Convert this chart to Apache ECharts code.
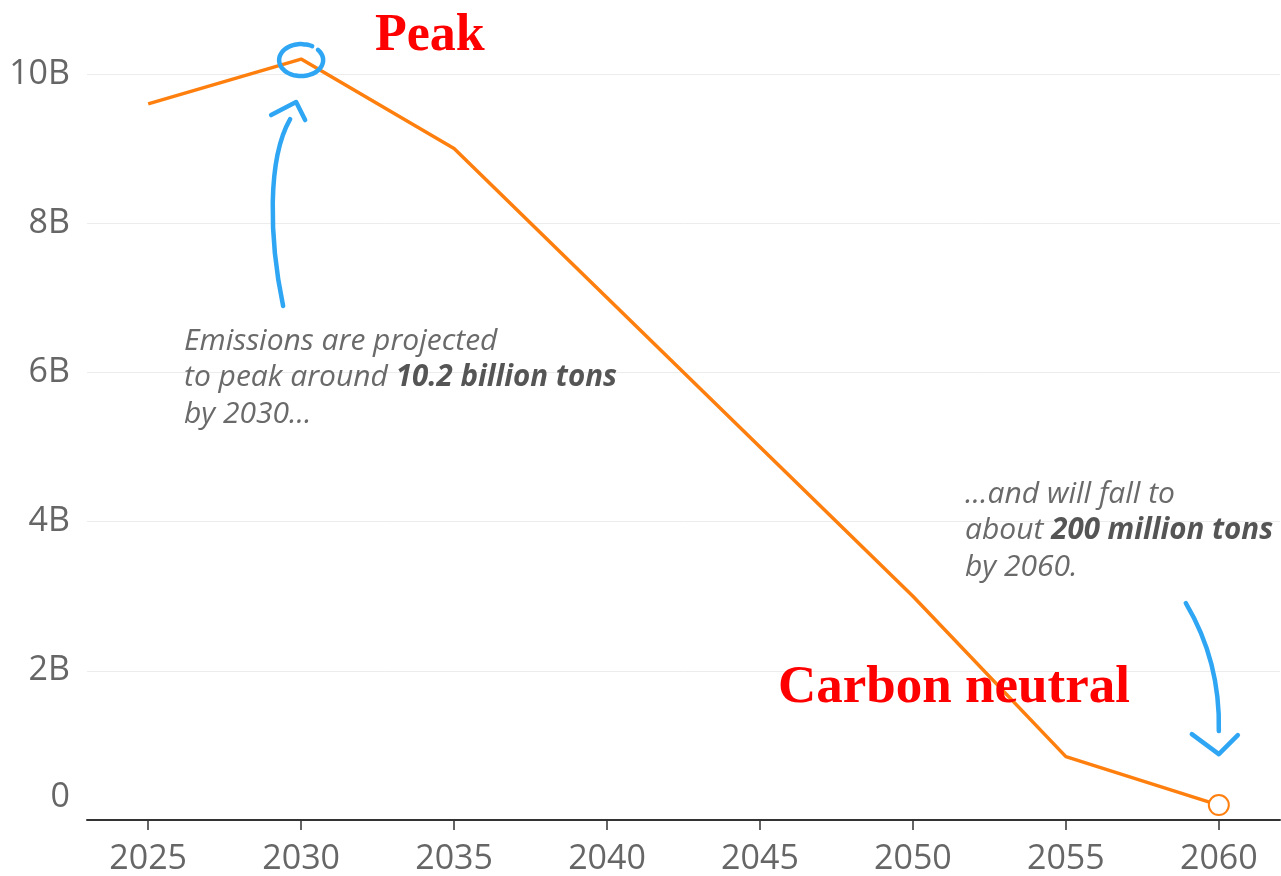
<!DOCTYPE html>
<html><head><meta charset="utf-8">
<script src="https://cdn.jsdelivr.net/npm/echarts@6/dist/echarts.min.js"></script>
<style>html,body{margin:0;padding:0;background:#fff}#c{width:1281px;height:876px}</style>
</head><body><div id="c"></div>
<script>
const years = [2025, 2030, 2035, 2040, 2045, 2050, 2055, 2060];
const emissions = [9.6, 10.2, 9.0, 7.0, 5.0, 3.0, 0.85, 0.2]; // billion tons
const xTickValues = [2025, 2030, 2035, 2040, 2045, 2050, 2055, 2060];
const yTickValues = [0, 2, 4, 6, 8, 10];

const FONT = '"Open Sans", sans-serif';
const BLUE = '#2ea6f4';
const ORANGE = '#ff7f0e';

const chart = echarts.init(document.getElementById('c'), null, {renderer: 'canvas'});
const data = years.map((y, i) => [y, emissions[i]]);

chart.setOption({
  animation: false,
  backgroundColor: '#fff',
  grid: {left: 87, right: 1, top: 74, bottom: 55, containLabel: false},
  xAxis: {
    type: 'value', min: 2023, max: 2062,
    axisLine: {show: true, lineStyle: {color: '#333', width: 2}},
    axisTick: {show: true, length: 10, customValues: xTickValues, lineStyle: {color: '#333', width: 1.5}},
    axisLabel: {customValues: xTickValues, fontFamily: FONT, fontSize: 34, color: '#666', margin: 22,
      formatter: v => String(v)},
    splitLine: {show: false}
  },
  yAxis: {
    type: 'value', min: 0, max: 10, interval: 2,
    axisLine: {show: false}, axisTick: {show: false},
    axisLabel: {customValues: yTickValues, fontFamily: FONT, fontSize: 34, color: '#666', margin: 17,
      formatter: v => v === 0 ? '{z|0}' : v + 'B',
      rich: {z: {fontFamily: FONT, fontSize: 34, color: '#666', padding: [0, 0, 46, 0]}}},
    splitLine: {show: true, lineStyle: {color: '#ececec', width: 1}}
  },
  series: [{
    type: 'line', data: data, clip: false,
    lineStyle: {color: ORANGE, width: 3.5},
    symbol: (val) => val[0] === 2060 ? 'emptyCircle' : 'none',
    symbolSize: 20,
    showAllSymbol: true,
    itemStyle: {color: ORANGE, borderColor: ORANGE, borderWidth: 3}
  }]
});

const P = chart.convertToPixel({gridIndex: 0}, [2030, 10.2]);
const E = chart.convertToPixel({gridIndex: 0}, [2060, 0.2]);

function ellipsePts(cx, cy, rx, ry, a0, a1, n) {
  const pts = [];
  for (let i = 0; i <= n; i++) {
    const a = (a0 + (a1 - a0) * i / n) * Math.PI / 180;
    pts.push([cx + rx * Math.cos(a), cy + ry * Math.sin(a)]);
  }
  return pts;
}
const stroke = {stroke: BLUE, lineWidth: 4.5, lineCap: 'round', lineJoin: 'round', fill: null};
const annoStyle = (x, y, text) => ({
  type: 'text', z: 50,
  style: {x: x, y: y, text: text, font: 'italic 30px ' + FONT, fill: '#6a6a6a',
    lineHeight: 36.5, align: 'left', verticalAlign: 'top',
    rich: {b: {font: 'italic bold 29.5px ' + FONT, fill: '#555', lineHeight: 36.5}}}
});

chart.setOption({
  graphic: [
    {type: 'polyline', z: 40, shape: {points: ellipsePts(P[0], P[1] + 1, 22, 16, -40, 300, 40), smooth: 0.3}, style: stroke},
    {type: 'bezierCurve', z: 40, shape: {x1: P[0] - 18, y1: P[1] + 247, cpx1: P[0] - 32, cpy1: P[1] + 180,
      cpx2: P[0] - 34, cpy2: P[1] + 100, x2: P[0] - 11, y2: P[1] + 60}, style: stroke},
    {type: 'polyline', z: 40, shape: {points: [[P[0] - 30, P[1] + 56], [P[0] - 5, P[1] + 43], [P[0] + 4, P[1] + 61]]}, style: stroke},
    {type: 'bezierCurve', z: 40, shape: {x1: E[0] - 33, y1: E[1] - 202, cpx1: E[0] - 8, cpy1: E[1] - 160,
      cpx2: E[0] + 1, cpy2: E[1] - 115, x2: E[0], y2: E[1] - 74}, style: stroke},
    {type: 'polyline', z: 40, shape: {points: [[E[0] - 27, E[1] - 71], [E[0], E[1] - 51], [E[0] + 19, E[1] - 70]]}, style: stroke},
    annoStyle(184, 323, 'Emissions are projected\nto peak around {b|10.2 billion tons}\nby 2030...'),
    annoStyle(965, 476, '...and will fall to\nabout {b|200 million tons}\nby 2060.'),
    {type: 'text', z: 60, style: {x: 375, y: 37, text: 'Peak', font: 'bold 52px "Liberation Serif", "Times New Roman", serif',
      fill: '#ff0000', align: 'left', verticalAlign: 'middle'}},
    {type: 'text', z: 60, style: {x: 778, y: 688, text: 'Carbon neutral', font: 'bold 53px "Liberation Serif", "Times New Roman", serif',
      fill: '#ff0000', align: 'left', verticalAlign: 'middle'}}
  ]
});
</script>
</body></html>
